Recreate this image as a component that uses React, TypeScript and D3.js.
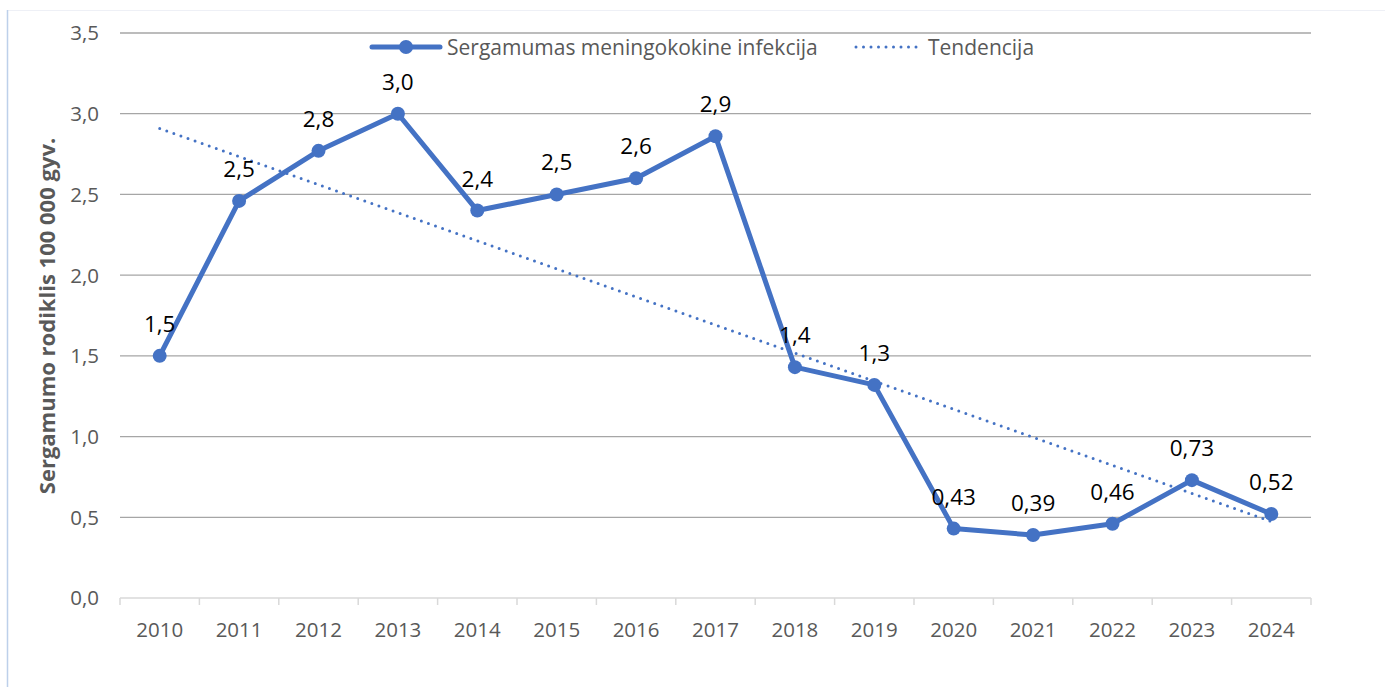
import * as d3 from "d3";

const years = ["2010", "2011", "2012", "2013", "2014", "2015", "2016", "2017", "2018", "2019", "2020", "2021", "2022", "2023", "2024"];
const rates = [1.5, 2.46, 2.77, 3.0, 2.4, 2.5, 2.6, 2.86, 1.43, 1.32, 0.43, 0.39, 0.46, 0.73, 0.52];
const rateLabels = ["1,5", "2,5", "2,8", "3,0", "2,4", "2,5", "2,6", "2,9", "1,4", "1,3", "0,43", "0,39", "0,46", "0,73", "0,52"];
const yTicks = [0, 0.5, 1, 1.5, 2, 2.5, 3, 3.5];
const seriesName = "Sergamumas meningokokine infekcija";
const trendName = "Tendencija";
const yTitle = "Sergamumo rodiklis 100 000 gyv.";

const W = 1385;
const H = 687;
const blue = "#4472C4";
const grey = "#595959";
const font = "'Open Sans', sans-serif";

export default function App() {
    const left = 120;
    const right = 1311;
    const top = 33;
    const bottom = 598;

    const x = d3.scaleBand().domain(years).range([left, right]);
    const y = d3.scaleLinear().domain([0, 3.5]).range([bottom, top]);
    const cx = (i: number) => x(years[i])! + x.bandwidth() / 2;

    // linear trend (least squares) like Excel's trendline
    const idx = rates.map((_, i) => i);
    const mx = d3.mean(idx)!;
    const my = d3.mean(rates)!;
    const slope = d3.sum(idx, i => (i - mx) * (rates[i] - my)) / d3.sum(idx, i => (i - mx) ** 2);
    const trend = (i: number) => my + slope * (i - mx);

    const line = d3.line<number>().x((_, i) => cx(i)).y(d => y(d));
    const trendPath = d3.line<number>().x(i => cx(i)).y(i => y(trend(i)))([0, years.length - 1]);

    const fmt = (v: number) => v.toFixed(1).replace(".", ",");

    return (
        <svg width={W} height={H} style={{ position: "absolute", left: 0, top: 0, background: "#fff" }} fontFamily={font}>
            <line x1={7} x2={W} y1={10.5} y2={10.5} stroke="#eef0f6" />
            <line x1={7.5} x2={7.5} y1={10} y2={H} stroke="#bdd0ea" strokeWidth={1.5} />

            {yTicks.slice(1).map(t => (
                <line key={t} x1={left} x2={right} y1={y(t)} y2={y(t)} stroke="#a6a6a6" strokeWidth={1.3} />
            ))}
            {yTicks.map(t => (
                <text key={t} x={99} y={y(t)} dy="0.36em" textAnchor="end" fontSize={20.5} fill={grey}>{fmt(t)}</text>
            ))}

            <line x1={left} x2={right} y1={bottom} y2={bottom} stroke="#d9d9d9" strokeWidth={1.5} />
            {d3.range(years.length + 1).map(i => {
                const px = left + i * x.bandwidth();
                return <line key={i} x1={px} x2={px} y1={bottom} y2={bottom + 7} stroke="#d9d9d9" strokeWidth={1.5} />;
            })}
            {years.map((yr, i) => (
                <text key={yr} x={cx(i)} y={637} textAnchor="middle" fontSize={20.5} fill={grey}>{yr}</text>
            ))}

            <text transform={`translate(55,316) rotate(-90)`} textAnchor="middle"
                fontSize={22} fontWeight="bold" fill={grey}>{yTitle}</text>

            <path d={trendPath!} fill="none" stroke={blue} strokeWidth={3} strokeDasharray="0 7.5" strokeLinecap="round" />
            <path d={line(rates)!} fill="none" stroke={blue} strokeWidth={5} strokeLinejoin="round" />
            {rates.map((v, i) => (
                <circle key={i} cx={cx(i)} cy={y(v)} r={7} fill={blue} />
            ))}
            {rates.map((v, i) => (
                <text key={i} x={cx(i)} y={y(v) - 24} textAnchor="middle" fontSize={22.5} fill="#000">{rateLabels[i]}</text>
            ))}

            <g>
                <line x1={372} x2={440} y1={47} y2={47} stroke={blue} strokeWidth={5} strokeLinecap="round" />
                <circle cx={406} cy={47} r={7} fill={blue} />
                <text x={447} y={47} dy="0.36em" fontSize={21} fill={grey}>{seriesName}</text>
                <line x1={856} x2={922} y1={47} y2={47} stroke={blue} strokeWidth={3} strokeDasharray="0 7.5" strokeLinecap="round" />
                <text x={928} y={47} dy="0.36em" fontSize={21} fill={grey}>{trendName}</text>
            </g>
        </svg>
    );
}
